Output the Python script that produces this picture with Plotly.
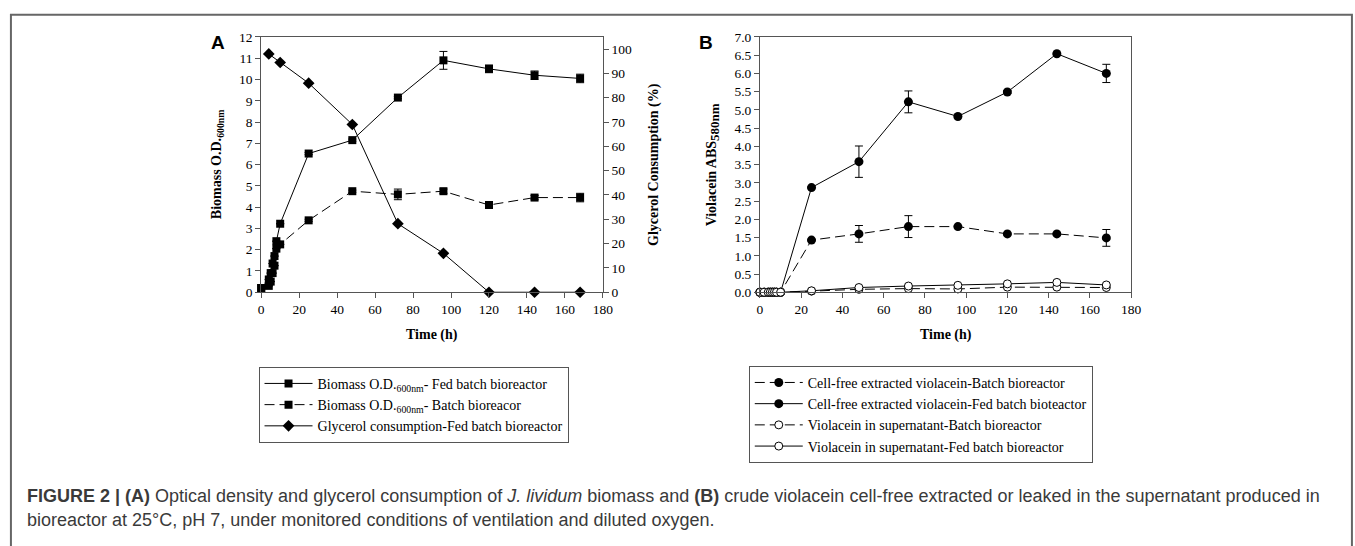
import plotly.graph_objects as go

# ---------------- data: panel A ----------------
t_bio = [0, 4, 5, 6, 7, 8, 10, 25, 48, 72, 96, 120, 144, 168]
bio_fed = [0.2, 0.6, 0.9, 1.35, 1.7, 2.4, 3.22, 6.52, 7.15, 9.15, 10.9, 10.5, 10.2, 10.05]
bio_fed_err = [0, 0, 0, 0, 0, 0, 0, 0.05, 0.05, 0.05, 0.42, 0.18, 0.2, 0.2]
bio_batch = [0.2, 0.3, 0.5, 0.9, 1.25, 2.05, 2.25, 3.38, 4.75, 4.6, 4.75, 4.1, 4.45, 4.45]
bio_batch_err = [0, 0, 0, 0, 0, 0, 0, 0.05, 0.05, 0.25, 0.1, 0.15, 0.1, 0.2]

t_gly = [4, 10, 25, 48, 72, 96, 120, 144, 168]
gly_fed = [98, 94.5, 86, 69, 28.2, 16, 0, 0, 0]

# ---------------- data: panel B ----------------
t_vio = [0, 2, 4, 5, 6, 7, 8, 10, 25, 48, 72, 96, 120, 144, 168]
cf_batch = [0, 0, 0, 0, 0, 0, 0, 0, 1.43, 1.6, 1.8, 1.8, 1.6, 1.6, 1.49]
cf_batch_err = [0, 0, 0, 0, 0, 0, 0, 0, 0.02, 0.23, 0.3, 0.02, 0.02, 0.02, 0.23]
cf_fed = [0, 0, 0, 0, 0, 0, 0, 0, 2.87, 3.58, 5.22, 4.82, 5.49, 6.54, 6.0]
cf_fed_err = [0, 0, 0, 0, 0, 0, 0, 0, 0.02, 0.43, 0.3, 0.03, 0.04, 0.02, 0.25]
sn_batch = [0, 0, 0, 0, 0, 0, 0, 0, 0.03, 0.08, 0.1, 0.09, 0.14, 0.14, 0.13]
sn_fed = [0, 0, 0, 0, 0, 0, 0, 0, 0.04, 0.13, 0.17, 0.19, 0.23, 0.27, 0.2]

x_ticks = list(range(0, 181, 20))
yA_ticks = list(range(0, 13))
yA2_ticks = list(range(0, 101, 10))
yB_ticks = [i * 0.5 for i in range(15)]

# ---------------- layout helpers ----------------
W, H = 1355, 546
def px(x):
    return x / W
def py(y):
    return 1 - y / H

SERIF = "Liberation Serif, Times New Roman, serif"
AX = "#555555"
DASH = "10px,5px"

fig = go.Figure()

err_style = dict(type="data", color="black", thickness=1, width=4, visible=True)

# Panel A traces
fig.add_trace(go.Scatter(
    x=t_bio, y=bio_fed, mode="lines+markers", xaxis="x", yaxis="y",
    name="Biomass O.D.<sub>600nm</sub>- Fed batch bioreactor",
    line=dict(color="black", width=1),
    marker=dict(symbol="square", size=8, color="black"),
    error_y=dict(array=bio_fed_err, **err_style),
    cliponaxis=False, legend="legend"))
fig.add_trace(go.Scatter(
    x=t_bio, y=bio_batch, mode="lines+markers", xaxis="x", yaxis="y",
    name="Biomass O.D.<sub>600nm</sub>- Batch bioreacor",
    line=dict(color="black", width=1, dash=DASH),
    marker=dict(symbol="square", size=8, color="black"),
    error_y=dict(array=bio_batch_err, **err_style),
    cliponaxis=False, legend="legend"))
fig.add_trace(go.Scatter(
    x=t_gly, y=gly_fed, mode="lines+markers", xaxis="x", yaxis="y3",
    name="Glycerol consumption-Fed batch bioreactor",
    line=dict(color="black", width=1),
    marker=dict(symbol="diamond", size=9, color="black"),
    cliponaxis=False, legend="legend"))

# Panel B traces
fig.add_trace(go.Scatter(
    x=t_vio, y=cf_batch, mode="lines+markers", xaxis="x2", yaxis="y2",
    name="Cell-free extracted violacein-Batch bioreactor",
    line=dict(color="black", width=1, dash=DASH),
    marker=dict(symbol="circle", size=9, color="black"),
    error_y=dict(array=cf_batch_err, **err_style),
    cliponaxis=False, legend="legend2"))
fig.add_trace(go.Scatter(
    x=t_vio, y=cf_fed, mode="lines+markers", xaxis="x2", yaxis="y2",
    name="Cell-free extracted violacein-Fed batch bioteactor",
    line=dict(color="black", width=1),
    marker=dict(symbol="circle", size=9, color="black"),
    error_y=dict(array=cf_fed_err, **err_style),
    cliponaxis=False, legend="legend2"))
fig.add_trace(go.Scatter(
    x=t_vio, y=sn_batch, mode="lines+markers", xaxis="x2", yaxis="y2",
    name="Violacein in supernatant-Batch bioreactor",
    line=dict(color="black", width=1, dash=DASH),
    marker=dict(symbol="circle", size=8, color="white", line=dict(color="black", width=1)),
    cliponaxis=False, legend="legend2"))
fig.add_trace(go.Scatter(
    x=t_vio, y=sn_fed, mode="lines+markers", xaxis="x2", yaxis="y2",
    name="Violacein in supernatant-Fed batch bioreactor",
    line=dict(color="black", width=1),
    marker=dict(symbol="circle", size=8, color="white", line=dict(color="black", width=1)),
    cliponaxis=False, legend="legend2"))

tickfont = dict(family=SERIF, size=13.5, color="black")
common_x = dict(range=[0, 180], tickvals=x_ticks, ticks="outside", ticklen=5,
                tickcolor=AX, showline=True, linecolor=AX, linewidth=1,
                showgrid=False, zeroline=False, tickfont=tickfont, mirror=True)

fig.update_layout(
    width=W, height=H, margin=dict(l=0, r=0, t=0, b=0),
    paper_bgcolor="white", plot_bgcolor="white",
    xaxis=dict(domain=[px(260.7), px(605.7)], anchor="y", **common_x),
    yaxis=dict(domain=[py(293.3), py(30.8)], anchor="x", range=[0, 12],
               tickvals=yA_ticks, ticks="outside", ticklen=5, tickcolor=AX,
               showline=True, linecolor=AX, showgrid=False, zeroline=False,
               tickfont=tickfont),
    yaxis3=dict(overlaying="y", side="right", anchor="x", range=[0, 105],
                tickvals=yA2_ticks, ticks="outside", ticklen=5, tickcolor=AX,
                showline=True, linecolor=AX, showgrid=False, zeroline=False,
                tickfont=tickfont),
    xaxis2=dict(domain=[px(764.3), px(1139)], anchor="y2", **common_x),
    yaxis2=dict(domain=[py(293.3), py(30.8)], anchor="x2", range=[0, 7],
                tickvals=yB_ticks, tickformat=".1f", ticks="outside", ticklen=5,
                tickcolor=AX, showline=True, linecolor=AX, mirror=True,
                showgrid=False, zeroline=False, tickfont=tickfont),
    legend=dict(x=px(258), y=py(370), xanchor="left", yanchor="top",
                bordercolor=AX, borderwidth=1, bgcolor="white",
                font=dict(family=SERIF, size=14, color="black"),
                itemwidth=48, tracegroupgap=0),
    legend2=dict(x=px(753), y=py(369), xanchor="left", yanchor="top",
                 bordercolor=AX, borderwidth=1, bgcolor="white",
                 font=dict(family=SERIF, size=14, color="black"),
                 itemwidth=48, tracegroupgap=0),
    showlegend=True,
)

ann = []
def add(text, x, y, **kw):
    d = dict(text=text, x=px(x), y=py(y), xref="paper", yref="paper",
             showarrow=False, xanchor="center", yanchor="middle")
    d.update(kw)
    ann.append(d)

titlefont = dict(family=SERIF, size=14, color="black")
add("<b>Biomass O.D.<sub>600nm</sub></b>", 216.7, 162, textangle=-90, font=titlefont)
add("<b>Glycerol Consumption (%)</b>", 656.7, 162, textangle=-90, font=titlefont)
add("<b>Violacein ABS<sub><span style='font-size:13px'>580nm</span></sub></b>",
    716.7, 162, textangle=-90, font=titlefont)
add("<b>Time (h)</b>", 433.2, 337, font=titlefont)
add("<b>Time (h)</b>", 951.7, 337, font=titlefont)
add("<b>A</b>", 217, 36, font=dict(family="Liberation Sans, Arial", size=19, color="black"))
add("<b>B</b>", 710, 36, font=dict(family="Liberation Sans, Arial", size=19, color="black"))

capfont = dict(family="Liberation Sans, Arial", size=18, color="#3a3a3a")
add("<b>FIGURE 2 | (A)</b> Optical density and glycerol consumption of <i>J. lividum</i> biomass and "
    "<b>(B)</b> crude violacein cell-free extracted or leaked in the supernatant produced in",
    22, 503, xanchor="left", font=capfont)
add("bioreactor at 25°C, pH 7, under monitored conditions of ventilation and diluted oxygen.",
    22, 527, xanchor="left", font=capfont)

fig.update_layout(annotations=ann)

fig.add_shape(type="rect", xref="paper", yref="paper",
              x0=px(8), x1=px(1362), y0=py(560), y1=py(8),
              line=dict(color="#666666", width=2), fillcolor="rgba(0,0,0,0)")

fig.write_html("out.html", config={"displayModeBar": False},
               post_script="document.body.style.margin='0';document.body.style.overflow='hidden';")
